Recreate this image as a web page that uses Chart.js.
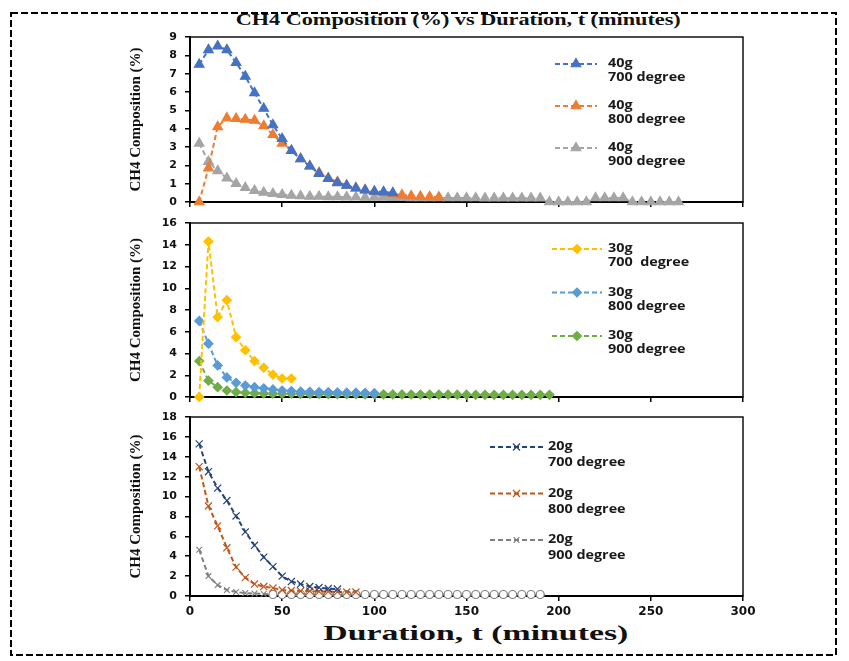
<!DOCTYPE html>
<html><head><meta charset="utf-8">
<script src="https://cdn.jsdelivr.net/npm/chart.js@4.4.0/dist/chart.umd.min.js"></script>
<style>
html,body{margin:0;padding:0;background:#fff;}
#wrap{position:relative;width:849px;height:661px;overflow:hidden;background:#fff;}
canvas{position:absolute;}
.ttl{position:absolute;white-space:nowrap;font-family:"Liberation Serif","Times New Roman",serif;font-weight:bold;color:#111;transform-origin:center center;}
</style></head>
<body>
<div id="wrap">
<svg width="849" height="661" style="position:absolute;left:0;top:0"><rect x="11" y="13" width="825" height="642" fill="none" stroke="#000" stroke-width="2" stroke-dasharray="7,3"/></svg>
<div id="mainTitle" class="ttl" style="font-size:16px;">CH4 Composition (%) vs Duration, t (minutes)</div>
<div id="xTitle" class="ttl" style="font-size:21px;">Duration, t (minutes)</div>
<canvas id="c1" width="729" height="190" style="left:120px;top:28px"></canvas>
<canvas id="c2" width="729" height="190" style="left:120px;top:214px"></canvas>
<canvas id="c3" width="729" height="225" style="left:120px;top:408px"></canvas>
</div>
<script>
// Sampling times (minutes)
const t = [5,10,15,20,25,30,35,40,45,50,55,60,65,70,75,80,85,90,95,100,105,110,115,120,125,130,135,140,145,150,155,160,165,170,175,180,185,190,195,200,205,210,215,220,225,230,235,240,245,250,255,260,265];

// 40 g
const g40_700 = [7.5,8.3,8.5,8.3,7.6,6.85,5.95,5.1,4.2,3.45,2.8,2.35,1.95,1.55,1.27,1.04,0.9,0.75,0.65,0.58,0.55,0.5];
const g40_800 = [0,1.85,4.1,4.58,4.55,4.5,4.45,4.15,3.67,3.2,2.8,2.35,1.95,1.6,1.3,1.1,0.9,0.76,0.64,0.55,0.5,0.44,0.38,0.33,0.3,0.28,0.26];
const g40_900 = [3.2,2.2,1.7,1.3,1.0,0.78,0.62,0.52,0.45,0.4,0.36,0.33,0.3,0.3,0.28,0.28,0.27,0.26,0.25,0.25,0.25,0.24,0.24,0.23,0.23,0.23,0.22,0.22,0.22,0.22,0.22,0.21,0.21,0.21,0.21,0.21,0.21,0.21,0,0,0,0,0,0.22,0.22,0.22,0.22,0,0,0,0,0,0];

// 30 g
const g30_700 = [0,14.3,7.35,8.9,5.5,4.3,3.3,2.7,2.05,1.7,1.7];
const g30_800 = [7.0,4.9,2.9,1.8,1.3,1.05,0.9,0.8,0.7,0.6,0.55,0.5,0.48,0.45,0.45,0.42,0.4,0.4,0.38,0.35];
const g30_900 = [3.3,1.5,0.9,0.6,0.45,0.38,0.35,0.32,0.3,0.3,0.3,0.28,0.28,0.28,0.27,0.27,0.26,0.26,0.25,0.25,0.25,0.24,0.24,0.23,0.23,0.22,0.22,0.22,0.21,0.21,0.2,0.2,0.2,0.2,0.2,0.2,0.2,0.2,0.2];

// 20 g
const g20_700 = [15.3,12.5,10.85,9.6,8.05,6.45,5.1,3.9,2.95,2.0,1.45,1.2,0.95,0.85,0.75,0.7];
const g20_800 = [13.0,9.05,7.05,4.85,2.9,1.85,1.2,0.95,0.8,0.6,0.55,0.5,0.5,0.45,0.45,0.42,0.4,0.4];
const g20_900 = [4.65,2.0,1.1,0.6,0.4,0.3,0.25,0.2,0.15,0.15,0.15,0.15,0.15,0.15,0.15,0.15,0.15,0.15,0.15,0.15,0.15,0.15,0.15,0.15,0.15,0.15,0.15,0.15,0.15,0.15,0.15,0.15,0.15,0.15,0.15,0.15,0.15,0.15];

// Legend labels
const labels40 = [["40g","700 degree"],["40g","800 degree"],["40g","900 degree"]];
const labels30 = [["30g","700  degree"],["30g","800 degree"],["30g","900 degree"]];
const labels20 = [["20g","700 degree"],["20g","800 degree"],["20g","900 degree"]];

const yTicks40 = {min:0,max:9,step:1};
const yTicks30 = {min:0,max:16,step:2};
const yTicks20 = {min:0,max:18,step:2};
const xTicks = {min:0,max:300,step:50};
const yTitle = 'CH4 Composition (%)';

function pts(vals){ return vals.map((v,i)=>({x:t[i],y:v})); }

function ds(vals,color,style,radius){
  return {data:pts(vals),borderColor:color,backgroundColor:color,borderWidth:2,borderDash:[5,3],
    pointStyle:style,pointRadius:radius,pointBorderColor:color,pointBackgroundColor:color,pointBorderWidth:1.2,
    pointHoverRadius:radius,tension:0,clip:8,fill:false};
}

const framePlugin = {
  id:'frameBox',
  beforeDatasetsDraw(chart){
    const {ctx,chartArea:a}=chart;
    ctx.save();ctx.strokeStyle='#000';ctx.lineWidth=1.4;
    ctx.strokeRect(a.left,a.top,a.right-a.left,a.bottom-a.top);
    ctx.restore();
  }
};

const legendPlugin = {
  id:'seriesLegend',
  afterDatasetsDraw(chart,args,o){
    if(!o || !o.items) return;
    const ctx=chart.ctx;
    o.items.forEach((lines,i)=>{
      const d=chart.data.datasets[i];
      const y=o.y+i*o.step;
      ctx.save();
      ctx.strokeStyle=d.borderColor;ctx.lineWidth=2;ctx.setLineDash([5,3]);
      ctx.beginPath();ctx.moveTo(o.x1,y);ctx.lineTo(o.x2,y);ctx.stroke();
      ctx.setLineDash([]);
      ctx.fillStyle=d.pointBorderColor;ctx.strokeStyle=d.pointBorderColor;ctx.lineWidth=1.2;
      const st=(typeof d.pointStyle==='function')?'crossRot':d.pointStyle;
      Chart.helpers.drawPoint(ctx,{pointStyle:st,radius:d.pointRadius,rotation:0,borderWidth:1.2},(o.x1+o.x2)/2,y);
      ctx.fillStyle='#1a1a1a';
      ctx.font='bold 11.5px "Open Sans", "DejaVu Sans", sans-serif';
      ctx.textBaseline='middle';ctx.textAlign='left';
      lines.forEach((s,k)=>{
        ctx.save();ctx.translate(o.tx,y+k*o.lh);ctx.scale(1.25,1);ctx.fillText(s,0,0);ctx.restore();
      });
      ctx.restore();
    });
  }
};

function makeChart(id,datasets,yr,showX,xH,padBottom,legend){
  const tickFont={family:'"DejaVu Sans", sans-serif',size:11,weight:'bold'};
  return new Chart(document.getElementById(id),{
    type:'line',
    data:{datasets},
    options:{
      responsive:false,animation:false,devicePixelRatio:1,
      layout:{padding:{left:0,top:9,right:106,bottom:padBottom}},
      plugins:{legend:{display:false},tooltip:{enabled:false},seriesLegend:legend},
      scales:{
        x:{type:'linear',min:xTicks.min,max:xTicks.max,
          ticks:{stepSize:xTicks.step,display:showX,color:'#111',font:{family:'"DejaVu Sans", sans-serif',size:12,weight:'bold'},padding:4,maxRotation:0},
          grid:{drawOnChartArea:false,drawTicks:true,tickLength:5,color:'#000',lineWidth:1.5},
          border:{display:true,color:'#000',width:2},
          afterFit(s){s.height=xH;s.paddingLeft=0;s.paddingRight=0;}},
        y:{type:'linear',min:yr.min,max:yr.max,
          ticks:{stepSize:yr.step,color:'#111',font:tickFont,padding:8},
          grid:{drawOnChartArea:false,drawTicks:true,tickLength:5,color:'#000',lineWidth:1.5},
          border:{display:true,color:'#000',width:2},
          title:{display:true,text:yTitle,color:'#111',font:{family:'"Liberation Serif", serif',size:15,weight:'bold'},padding:{top:7,bottom:0}},
          afterFit(s){s.width=70;s.paddingTop=0;s.paddingBottom=0;}}
      }
    },
    plugins:[framePlugin,legendPlugin]
  });
}

makeChart('c1',[
  ds(g40_700,'#4472C4','triangle',5.5),
  ds(g40_800,'#ED7D31','triangle',5.5),
  ds(g40_900,'#A5A5A5','triangle',5.5)
],yTicks40,false,10,6,{items:labels40,x1:435,x2:477,tx:488,y:36,step:42,lh:14});

makeChart('c2',[
  ds(g30_700,'#FFC000','rectRot',4.5),
  ds(g30_800,'#5B9BD5','rectRot',4.5),
  ds(g30_900,'#70AD47','rectRot',4.5)
],yTicks30,false,6,1,{items:labels30,x1:432,x2:482,tx:488,y:35,step:43.5,lh:14});

const grayStyle = (ctx)=> (ctx.dataIndex<8?'crossRot':'circle');
const d20_900 = ds(g20_900,'#808080','crossRot',4);
d20_900.pointStyle = grayStyle;
d20_900.pointBackgroundColor = '#ffffff';
makeChart('c3',[
  ds(g20_700,'#264478','crossRot',5),
  ds(g20_800,'#C0561A','crossRot',5),
  d20_900
],yTicks20,true,30,7,{items:labels20,x1:370,x2:423,tx:428,y:39,step:46.5,lh:16});

// Stretch HTML titles to the reference's wide lettering
function placeTitle(id,cx,cy,w){
  const el=document.getElementById(id);
  const r=el.getBoundingClientRect();
  const s=w/r.width;
  el.style.left=(cx-r.width/2)+'px';
  el.style.top=(cy-r.height/2)+'px';
  el.style.transform='scaleX('+s+')';
}
placeTitle('mainTitle',458,20,445);
placeTitle('xTitle',476,633,305);
</script>
</body></html>
